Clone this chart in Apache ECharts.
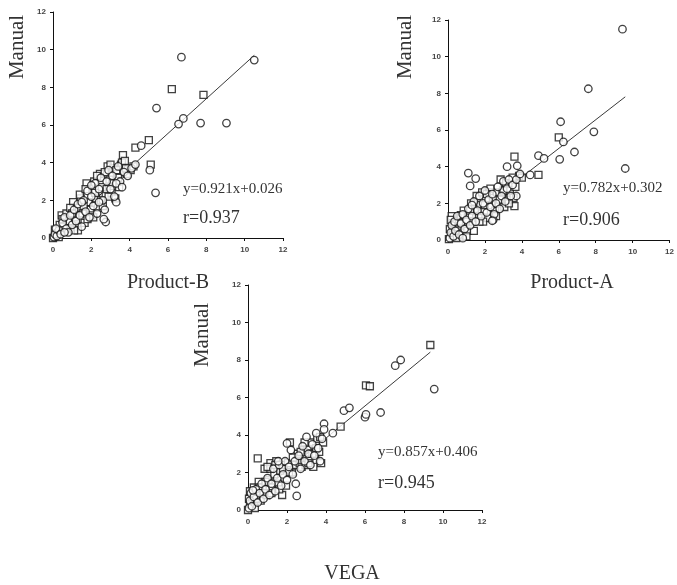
<!DOCTYPE html>
<html><head><meta charset="utf-8">
<script src="https://cdn.jsdelivr.net/npm/echarts@6/dist/echarts.min.js"></script>
<style>html,body{margin:0;padding:0;background:#fff}#c{width:677px;height:585px}</style>
</head><body><div id="c"></div>
<script>
// Axis ticks (all panels 0..12 step 2)
const axisTicks = [0, 2, 4, 6, 8, 10, 12];

// Panel 1: Product-B vs Manual
const pB_circles = [[10.5,9.45],[6.7,9.6],[5.4,6.9],[6.8,6.35],[6.55,6.05],[7.7,6.1],[9.05,6.1],[5.35,2.4],[4.6,4.9],[5.05,3.6],[2.75,0.85],[3.3,1.9],
 [0.05,0.05],[0.1,0.2],[0.2,0.1],[0.3,0.4],[0.15,0.5],[0.4,0.2],[0.5,0.8],[0.6,1.1],[0.7,0.5],[0.8,0.3],[0.9,1.2],[1.0,0.7],[1.1,1.5],[1.2,0.9],[1.3,1.8],[1.4,1.2],[1.5,0.6],[1.6,2.0],[1.7,1.4],[1.8,2.5],[1.9,1.1],[2.0,2.2],[2.1,1.7],[2.2,2.9],[2.3,1.3],[2.4,2.6],[2.5,3.2],[2.6,2.0],[2.7,1.5],[2.8,3.0],[2.9,3.6],[3.0,2.6],[3.1,3.3],[3.2,2.2],[3.4,3.8],[3.5,3.0],[3.7,3.5],[3.9,3.3],[4.1,3.7],[4.3,3.9],[2.65,1.0],[3.3,2.9],[2.0,2.8],[1.5,1.9],[0.6,0.3],[2.4,1.9],[3.6,2.7]];
const pB_squares = [[6.2,7.9],[7.85,7.6],[5.0,5.2],[4.3,4.8],[5.1,3.9],[3.65,4.4],
 [0.0,0.0],[0.1,0.45],[0.25,0.25],[0.35,0.7],[0.45,1.2],[0.55,0.6],[0.7,1.3],[0.85,0.9],[0.95,0.5],[1.05,1.9],[1.15,1.1],[1.25,0.6],[1.35,1.6],[1.45,2.1],[1.55,1.3],[1.65,0.8],[1.75,2.9],[1.85,1.9],[1.95,1.5],[2.05,2.5],[2.15,3.0],[2.25,2.1],[2.35,1.6],[2.45,3.4],[2.55,2.7],[2.6,1.7],[2.75,2.3],[2.85,3.8],[2.95,3.1],[3.05,2.4],[3.15,3.7],[3.25,2.1],[3.35,3.4],[3.45,2.7],[3.55,3.9],[3.6,4.0],[3.75,4.1],[3.85,3.4],[4.05,3.6],[4.2,3.8],[2.0,1.2],[1.3,0.4],[2.3,3.3],[2.7,3.5],[3.0,3.9],
 [0.5,1.0],[0.9,1.6],[1.1,0.4],[1.4,2.3],[1.8,1.0],[2.2,2.4],[2.5,2.0],[2.9,2.2],[3.1,2.9],[3.3,3.6],[3.8,3.7],[1.7,2.6],[2.1,1.1],[0.3,0.05],[1.0,1.3],[2.8,2.6],[3.4,3.2],[1.6,1.7]];
const pB_fit = [[0,0.026],[10.5,9.70]];

// Panel 2: Product-A vs Manual
const pA_circles = [[9.45,11.5],[7.6,8.25],[9.6,3.9],[7.9,5.9],[6.85,4.8],[6.1,6.45],[6.05,4.4],[6.25,5.35],[4.9,4.6],[5.2,4.45],[4.45,3.55],[3.2,4.0],[3.7,2.4],[1.1,3.65],[1.5,3.35],[1.2,2.95],[2.45,1.1],[3.75,4.05],
 [0.1,0.1],[0.15,0.4],[0.2,0.8],[0.3,0.2],[0.35,1.0],[0.4,0.5],[0.5,1.3],[0.6,0.3],[0.7,0.9],[0.8,1.4],[0.9,0.6],[1.0,1.1],[1.1,1.7],[1.2,0.8],[1.3,1.3],[1.4,2.1],[1.5,1.0],[1.6,1.6],[1.7,2.4],[1.8,1.3],[1.9,2.0],[2.0,2.7],[2.1,1.5],[2.2,2.2],[2.3,1.8],[2.4,2.5],[2.5,1.4],[2.6,2.0],[2.7,2.9],[2.8,1.7],[2.9,2.4],[3.0,3.2],[3.1,2.1],[3.2,2.8],[3.3,3.3],[3.4,2.4],[3.5,3.0],[3.7,3.3],[3.9,3.6],[0.8,0.1],[1.3,1.9],[2.4,1.05]];
const pA_squares = [[6.0,5.6],[4.9,3.55],[3.6,4.55],[3.6,1.85],[3.85,3.5],[4.0,3.4],
 [0.05,0.05],[0.1,0.6],[0.2,1.3],[0.25,0.3],[0.3,0.9],[0.45,0.1],[0.55,0.7],[0.65,1.2],[0.75,0.4],[0.85,1.6],[0.95,1.0],[1.05,0.5],[1.15,1.4],[1.25,2.0],[1.35,1.0],[1.45,1.7],[1.55,2.4],[1.65,1.2],[1.75,1.9],[1.85,2.6],[1.95,1.6],[2.05,2.2],[2.15,1.2],[2.25,2.6],[2.35,1.9],[2.45,2.3],[2.55,1.6],[2.65,2.6],[2.75,2.0],[2.85,3.3],[2.95,2.6],[3.05,1.8],[3.15,3.1],[3.25,2.2],[3.35,2.7],[3.45,3.1],[3.55,2.3],[3.65,2.9],[0.8,0.25],[1.9,1.0],
 [0.15,1.1],[0.4,0.9],[0.6,1.0],[1.0,0.2],[1.2,1.6],[1.7,1.0],[2.0,1.9],[2.3,2.8],[2.6,1.3],[2.8,2.2],[3.0,2.7],[3.3,2.0],[1.4,0.5],[0.7,1.35],[2.1,2.5],[3.5,3.4]];
const pA_fit = [[0,0.302],[9.6,7.81]];

// Panel 3: VEGA vs Manual
const vg_circles = [[7.83,8.0],[7.55,7.7],[9.55,6.45],[6.0,4.95],[6.05,5.1],[6.8,5.2],[4.92,5.3],[5.2,5.45],[4.35,4.1],[3.9,4.6],[2.5,0.75],[2.45,1.4],
 [0.05,0.1],[0.1,0.5],[0.15,0.9],[0.2,0.2],[0.3,0.7],[0.4,1.1],[0.5,0.4],[0.6,0.9],[0.7,1.4],[0.8,0.6],[0.9,1.1],[1.0,1.7],[1.1,0.8],[1.2,1.4],[1.3,2.2],[1.4,1.0],[1.5,1.7],[1.6,2.4],[1.7,1.3],[1.8,1.9],[1.9,2.6],[2.0,1.6],[2.1,2.3],[2.2,3.2],[2.3,1.9],[2.4,2.6],[2.6,2.9],[2.7,2.2],[2.8,3.4],[2.9,2.6],[3.0,3.9],[3.1,3.0],[3.2,2.4],[3.3,3.5],[3.4,2.9],[3.5,4.1],[3.6,3.3],[3.7,2.6],[3.8,3.8],[3.9,4.3],[2.0,3.55],[1.55,2.6],[0.25,1.05]];
const vg_squares = [[9.35,8.8],[6.05,6.65],[6.25,6.6],[4.75,4.45],[0.5,2.75],
 [0.0,0.0],[0.05,0.6],[0.1,1.0],[0.2,0.4],[0.3,1.2],[0.35,0.1],[0.45,0.8],[0.55,1.5],[0.65,0.5],[0.75,1.2],[0.85,2.2],[0.95,0.8],[1.05,1.6],[1.15,2.5],[1.25,1.2],[1.35,1.9],[1.45,2.6],[1.55,1.4],[1.65,2.1],[1.75,0.8],[1.85,2.4],[1.95,1.3],[2.05,2.5],[2.15,3.6],[2.25,2.0],[2.45,2.4],[2.55,3.0],[2.65,2.5],[2.75,2.3],[2.85,3.2],[2.95,2.4],[3.05,3.3],[3.15,2.7],[3.25,3.6],[3.35,2.3],[3.45,3.0],[3.55,3.8],[3.65,3.1],[3.75,2.5],[3.85,3.6],[1.15,2.2],
 [0.1,0.3],[0.4,0.6],[0.6,1.2],[0.9,1.5],[1.2,0.9],[1.4,2.4],[1.6,1.1],[1.8,2.2],[2.1,2.0],[2.3,2.8],[2.7,3.1],[2.9,3.6],[3.1,2.5],[3.3,3.0],[3.5,3.3],[3.7,3.9],[0.8,0.9],[1.0,2.3]];
const vg_fit = [[0,0.406],[9.35,8.42]];

const xNames = ['Product-B', 'Product-A', 'VEGA'];
const yName = 'Manual';
const equations = ['y=0.921x+0.026', 'y=0.782x+0.302', 'y=0.857x+0.406'];
const rValues = ['r=0.937', 'r=0.906', 'r=0.945'];

const grids = [
  {left: 53, top: 12, width: 230, height: 226},
  {left: 448, top: 20, width: 224, height: 220},
  {left: 248, top: 285, width: 234, height: 225}
];

const lbl = {fontSize: 8, fontWeight: 'bold', color: '#444', fontFamily: 'Liberation Sans, Arial, sans-serif'};
function xAx(i){return {type:'value', gridIndex:i, min:axisTicks[0], max:axisTicks[axisTicks.length-1], interval:2,
  axisLine:{show:true, onZero:false, lineStyle:{color:'#111', width:1}}, axisTick:{show:true, length:3, lineStyle:{color:'#111'}},
  axisLabel:Object.assign({margin:8}, lbl), splitLine:{show:false}};}
function yAx(i){return {type:'value', gridIndex:i, min:axisTicks[0], max:axisTicks[axisTicks.length-1], interval:2,
  axisLine:{show:true, onZero:false, lineStyle:{color:'#111', width:1}}, axisTick:{show:true, length:3, lineStyle:{color:'#111'}},
  axisLabel:Object.assign({margin:7}, lbl), splitLine:{show:false}};}

const sets = [[pB_circles, pB_squares, pB_fit],[pA_circles, pA_squares, pA_fit],[vg_circles, vg_squares, vg_fit]];
const series = [];
sets.forEach((s, i) => {
  series.push({type:'line', xAxisIndex:i, yAxisIndex:i, data:s[2], symbol:'none', lineStyle:{color:'#222', width:0.9}, z:1, silent:true});
  series.push({type:'scatter', xAxisIndex:i, yAxisIndex:i, data:s[1], symbol:'rect', symbolSize:7,
    itemStyle:{color:'#fff', borderColor:'#111', borderWidth:1.3}, z:2});
  series.push({type:'scatter', xAxisIndex:i, yAxisIndex:i, data:s[0], symbol:'circle', symbolSize:7.5,
    itemStyle:{color:'#fff', borderColor:'#111', borderWidth:1.3}, z:3});
});

const serif = '"Liberation Serif", "Times New Roman", serif';
const tc = '#333';
const ylabPos = [[17,47],[405,47],[202,335]];
const xlabPos = [[168,283],[572,283],[352,574]];
const eqPos = [[183,189],[563,188],[378,452]];
const rPos = [[183,218],[563,220],[378,483]];
const graphic = [];
for (let i=0;i<3;i++){
  graphic.push({type:'text', x:ylabPos[i][0], y:ylabPos[i][1], rotation:Math.PI/2,
    style:{text:yName, font:'21px '+serif, fill:tc, textAlign:'center', textVerticalAlign:'middle'}});
  graphic.push({type:'text', x:xlabPos[i][0], y:xlabPos[i][1],
    style:{text:xNames[i], font:'20px '+serif, fill:tc, textAlign:'center', textVerticalAlign:'middle'}});
  graphic.push({type:'text', x:eqPos[i][0], y:eqPos[i][1],
    style:{text:equations[i], font:'15px '+serif, fill:tc, textAlign:'left', textVerticalAlign:'middle'}});
  graphic.push({type:'text', x:rPos[i][0], y:rPos[i][1],
    style:{text:rValues[i], font:'18px '+serif, fill:tc, textAlign:'left', textVerticalAlign:'middle'}});
}

const chart = echarts.init(document.getElementById('c'), null, {renderer:'canvas'});
chart.setOption({
  animation:false,
  backgroundColor:'#fff',
  grid: grids,
  xAxis:[xAx(0), xAx(1), xAx(2)],
  yAxis:[yAx(0), yAx(1), yAx(2)],
  series: series,
  graphic: graphic
});
</script></body></html>
